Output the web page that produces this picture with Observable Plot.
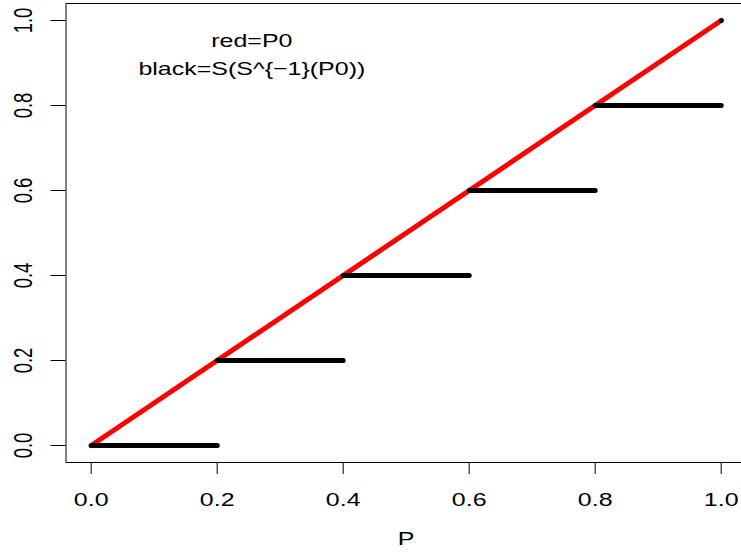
<!DOCTYPE html>
<html>
<head>
<meta charset="utf-8">
<script src="https://cdn.jsdelivr.net/npm/d3@7"></script>
<script src="https://cdn.jsdelivr.net/npm/@observablehq/plot@0.6"></script>
<style>
  html, body { margin: 0; padding: 0; background: #fff; overflow: hidden; }
</style>
</head>
<body>
<div id="chart"></div>
<script>
// ---- data ----
const xTicks = [0.0, 0.2, 0.4, 0.6, 0.8, 1.0];
const yTicks = [0.0, 0.2, 0.4, 0.6, 0.8, 1.0];
const pValues = [0, 1];          // P
const p0Values = [0, 1];         // red = P0
const stepStart = [0.0, 0.2, 0.4, 0.6, 0.8, 1.0];
const stepEnd   = [0.2, 0.4, 0.6, 0.8, 1.0, 1.0];
const stepValue = [0.0, 0.2, 0.4, 0.6, 0.8, 1.0]; // black = S(S^{-1}(P0))
const legendText = ["red=P0", "black=S(S^{\u22121}(P0))"];
const legendX = [0.255, 0.255];
const legendY = [0.952, 0.886];
const xLabel = "P";

const redLine = pValues.map((v, i) => ({x: v, y: p0Values[i]}));
const steps = stepStart.map((s, i) => ({x1: s, x2: stepEnd[i], y: stepValue[i]}));
const legend = legendText.map((t, i) => ({t, x: legendX[i], y: legendY[i]}));
const fmt = d3.format(".1f");

const chart = Plot.plot({
  width: 741,
  height: 556,
  marginLeft: 65.5,
  marginRight: -4.9,
  marginTop: 3,
  marginBottom: 94,
  style: {fontFamily: "'Liberation Sans', Arial, Helvetica, sans-serif", fontSize: "18.5px", background: "white", color: "black"},
  x: {domain: [-0.04, 1.04]},
  y: {domain: [-0.04, 1.04]},
  marks: [
    Plot.frame({stroke: "black", strokeWidth: 1}),
    Plot.axisX(xTicks, {tickSize: 12, tickPadding: 18, tickFormat: fmt, fontSize: 18.5, label: null, stroke: "black"}),
    Plot.axisY(yTicks, {tickSize: 15, tickFormat: () => "", label: null, stroke: "black"}),
    Plot.text(yTicks, {y: d => d, frameAnchor: "left", textAnchor: "middle", lineAnchor: "middle", dx: -42, rotate: -90, text: d => fmt(d), fontSize: 25, fill: "black"}),
    Plot.text([xLabel], {frameAnchor: "bottom", dy: 82, text: d => d, fontSize: 18.5, fill: "black"}),
    Plot.line(redLine, {x: "x", y: "y", stroke: "#FF0000", strokeWidth: 5, strokeLinecap: "round"}),
    Plot.link(steps, {x1: "x1", x2: "x2", y1: "y", y2: "y", stroke: "black", strokeWidth: 5, strokeLinecap: "round"}),
    Plot.text(legend, {x: "x", y: "y", text: "t", fontSize: 18.5, fill: "black"})
  ]
});
document.getElementById("chart").appendChild(chart);

// mimic the horizontally stretched look of the original raster
chart.querySelectorAll("text").forEach(el => {
  const len = el.getComputedTextLength();
  if (!len) return;
  const tr = el.getAttribute("transform") || "";
  if (/rotate/.test(tr)) {
    el.setAttribute("transform", tr + " scale(0.74,1)");
  } else {
    el.setAttribute("textLength", (len * 1.35).toFixed(2));
    el.setAttribute("lengthAdjust", "spacingAndGlyphs");
  }
});
</script>
</body>
</html>
